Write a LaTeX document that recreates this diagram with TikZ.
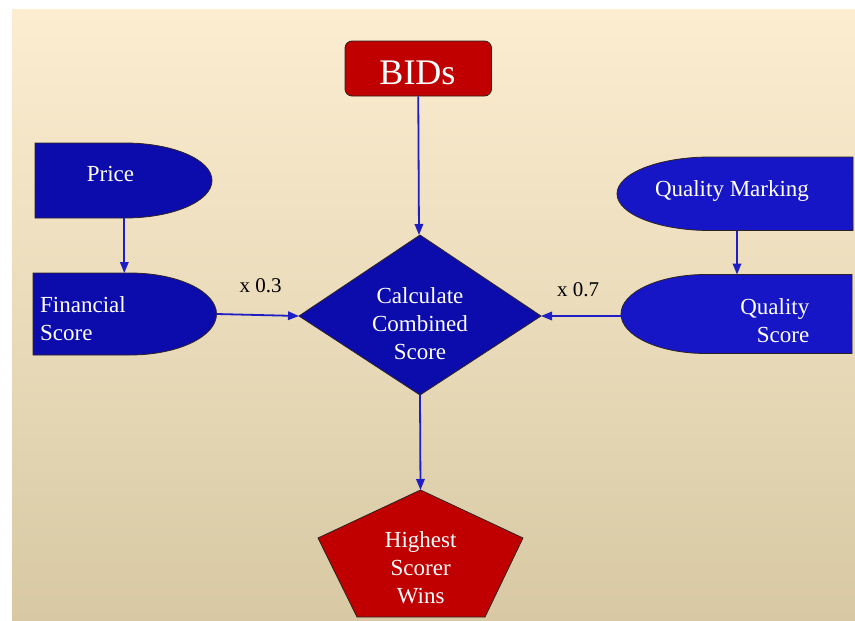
\documentclass[tikz,border=0pt]{standalone}
\usepackage{fontspec}
\setmainfont{Liberation Serif}
\usetikzlibrary{arrows.meta}

\definecolor{bgtop}{RGB}{252,237,209}
\definecolor{bgbot}{RGB}{216,201,164}
\definecolor{navy}{RGB}{12,12,172}
\definecolor{royal}{RGB}{22,22,198}
\definecolor{crimson}{RGB}{192,0,0}
\definecolor{wire}{RGB}{30,30,196}
\definecolor{rim}{RGB}{45,35,35}

\begin{document}
\begin{tikzpicture}[x=1pt,y=-1pt,
  shapefill/.style={fill=#1, draw=rim, line width=0.8pt},
  txt/.style={text=white, font=\fontsize{23}{28.3}\selectfont, inner sep=0pt},
  conn/.style={draw=wire, line width=1.8pt, -{Triangle[length=11pt,width=8.5pt]}},
  weight/.style={font=\fontsize{21}{25}\selectfont, inner sep=0pt}]

% page and slide background
\useasboundingbox (0,0) rectangle (855,621);
\fill[white] (0,0) rectangle (855,621);
\shade[top color=bgtop, bottom color=bgbot] (12,9) rectangle (855,621);

% BIDs box
\node[shapefill=crimson, rounded corners=7pt, minimum width=146.5pt, minimum height=55pt, inner sep=0pt] (bids) at (418.25,68.5) {};
\node[txt, font=\fontsize{36}{40}\selectfont] (bidsT) at (417.5,73.2) {BIDs};

% Price (delay shape)
\path[shapefill=navy] (35,143) -- (125,143)
  .. controls (173.05,143) and (212,159.79) .. (212,180.5)
  .. controls (212,201.21) and (173.05,218) .. (125,218) -- (35,218) -- cycle;
\node[txt] (price) at (110.5,174) {Price};

% Financial Score (delay shape)
\path[shapefill=navy] (33,273) -- (130,273)
  .. controls (177.77,273) and (216.5,291.36) .. (216.5,314)
  .. controls (216.5,336.64) and (177.77,355) .. (130,355) -- (33,355) -- cycle;
\node[txt, align=left, anchor=west] (fin) at (40,318.6) {Financial\\Score};

% Quality Marking (mirrored delay shape)
\path[shapefill=royal] (853,157) -- (710,157)
  .. controls (658.64,157) and (617,173.45) .. (617,193.75)
  .. controls (617,214.05) and (658.64,230.5) .. (710,230.5) -- (853,230.5) -- cycle;
\node[txt] (qmark) at (732,190.6) {Quality Marking};

% Quality Score (mirrored delay shape)
\path[shapefill=royal] (852,274.5) -- (706,274.5)
  .. controls (659.05,274.5) and (621,292.18) .. (621,314)
  .. controls (621,335.82) and (659.05,353.5) .. (706,353.5) -- (852,353.5) -- cycle;
\node[txt, align=right, anchor=east] (qscore) at (809.5,320.8) {Quality\\Score};

% decision diamond
\path[shapefill=navy] (420,235) -- (541,316) -- (420,395) -- (299,316) -- cycle;
\node[txt, align=center] (calc) at (420,323.5) {Calculate\\Combined\\Score};

% result pentagon
\path[shapefill=crimson] (420.5,490) -- (523,538) -- (485,617) -- (357,617) -- (318,538) -- cycle;
\node[txt, align=center] (win) at (420.7,567.5) {Highest\\Scorer\\Wins};

% connector end points on the shape outlines
\coordinate (price-s) at (124.3,218);
\coordinate (fin-n) at (124.3,273);
\coordinate (fin-e) at (216.5,314);
\coordinate (calc-n) at (419,235);
\coordinate (calc-w) at (299,316);
\coordinate (calc-e) at (541,316);
\coordinate (calc-s) at (420,395);
\coordinate (win-n) at (420.5,490);
\coordinate (qmark-s) at (737,230.5);
\coordinate (qscore-n) at (737,274.5);
\coordinate (qscore-w) at (621,316);

% connectors
\draw[conn] (bids.south) -- (calc-n);
\draw[conn] (price-s) -- (fin-n);
\draw[conn] (fin-e) -- (calc-w);
\draw[conn] (qmark-s) -- (qscore-n);
\draw[conn] (qscore-w) -- (calc-e);
\draw[conn] (calc-s) -- (win-n);

% weights
\node[weight, anchor=base] (w1) at (260.5,292.3) {x 0.3};
\node[weight, anchor=base] (w2) at (578,296.7) {x 0.7};
\end{tikzpicture}
\end{document}
